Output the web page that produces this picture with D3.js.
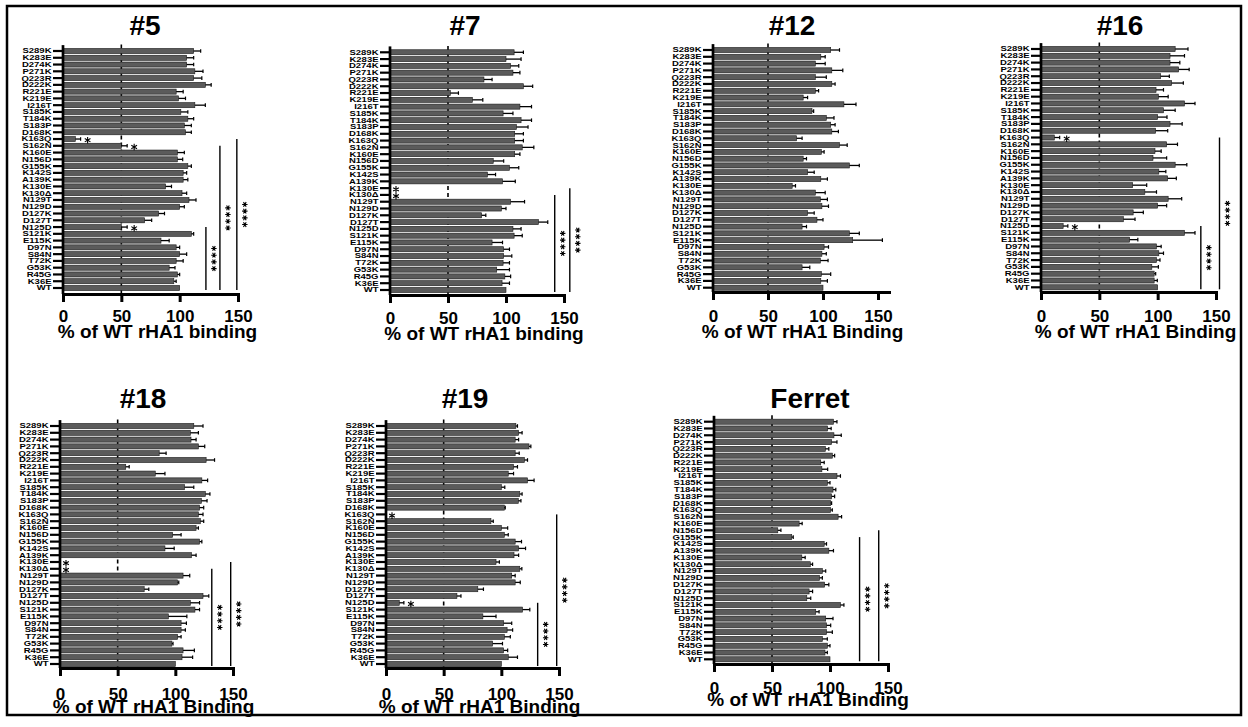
<!DOCTYPE html>
<html>
<head>
<meta charset="utf-8">
<script src="https://cdn.jsdelivr.net/npm/d3@7"></script>
<style>
  body { margin: 0; background: #fff; }
  svg { display: block; font-family: "Liberation Sans", Arial, sans-serif; font-weight: bold; }
</style>
</head>
<body>
<svg id="chart" width="1248" height="727"></svg>
<script>
// categories, top to bottom
const categories = ["S289K","K283E","D274K","P271K","Q223R","D222K","R221E","K219E","I216T","S185K",
  "T184K","S183P","D168K","K163Q","S162N","K160E","N156D","G155K","K142S","A139K",
  "K130E","K130Δ","N129T","N129D","D127K","D127T","N125D","S121K","E115K","D97N",
  "S84N","T72K","G53K","R45G","K36E","WT"];

const titles = ["#5", "#7", "#12", "#16", "#18", "#19", "Ferret"];
const xLabels = ["% of WT rHA1 binding", "% of WT rHA1 binding", "% of WT rHA1 Binding", "% of WT rHA1 Binding",
  "% of WT rHA1 Binding", "% of WT rHA1 Binding", "% of WT rHA1 Binding"];
const ticks = [0, 50, 100, 150];

// % of WT binding (mean) and error, per serum
const vals5 = [112,106,106,113,112,122,97,99,113,101,107,104,105,10.6,50,98,98,107,103,103,88,102,108,100,82,70,50,110,84,97,100,97,91,98,95,100];
const err5  = [6,6,6,7,7,5,6,6,9,6,5,6,5,4.5,5,6,4.6,3,3,4,5,4,6,4,5,6,5,2,7,3,6,6,5,2,2,0];

const vals7 = [107,100,104,106,81,115,52,71,112,97.5,113,109,107.5,107.5,114,107.5,89,103,84,97,0,0,104,96,79,128,106,107,88,98,98,97.5,92,99,96.6,100];
const err7  = [8,13,7,6,7,8,7,9,10,8.5,9,10,7.5,7.5,10,4.5,9,8,7,11,0,0,12,4,3.6,8,7,7,9,5,7,5.5,11,5,6.4,0];

const vals12 = [107,98,93,108,93,108,93,82,119,90,103,107,108,76,115,98.5,82,124,86,98,72,93,97.6,99,86,94.5,81,124,127,101,99,97.6,81,98.5,98,100];
const err12  = [8,4,9,10,10,3,3,4,11,1.5,7,4,6,5,7,2.5,3,9,6,6,3,9,6.4,6,6,5.5,4,9,27,4,4,7,7,8.5,6,0];

const vals16 = [115,110.6,110.6,118,102.6,112,98.6,100.6,123,105,100,110.6,98.3,11.4,107.7,97.7,96,115,101,108.6,78.6,89,109,100,79,70.6,19,123,76,99,101,99,95,97,97,100];
const err16  = [11,12.4,8.4,9,7.4,10,6.4,8.4,9,10,8,10.4,10.3,4.6,9.3,5.3,11.7,10,6,7.4,12,10,11.6,7.7,8.7,10,4,9,7,4,4,3,5.6,1.3,2.7,0];

const vals18 = [116,113,113.6,120,86,126.7,57,82.6,123,108,126,122.6,121,120,121.7,118,97.7,121,91,114,0,0,106.7,102,73,124,113,117,94,105,105,102,97,106.7,105.8,100];
const err18  = [8,7,4.4,5.5,6,7.3,3,8.4,5,8,4,4.9,3.6,4,2.9,2,7.3,2,8,4,0,0,5.8,1,4,5,8,4,16,4.6,3.7,3,1,9.8,9.2,0];

const vals19 = [112.6,115,112,124,112,120,110.6,106,122.7,100,116,114.7,102.6,0,91,100,102.6,112,115,111,95.4,116,109,112,79.6,61.5,11.5,118.4,84,102,105,102.6,92.5,102,106,100];
const err19  = [1.4,3,3,1.6,3.5,2.7,3.4,4.6,5.7,3,2,2.3,0.8,0,2,5.5,3.4,5.5,6,4,2.9,1.8,3,4.4,4.9,3.5,4,6.3,11.4,7,4.8,5.2,8.5,3.5,8,0];

const valsFerret = [103,98,103.4,101.4,96,102,92,93,106,97.7,102.6,101.4,100.6,100.6,107,73.4,55,67,95,99,75.7,83,93.4,91,95.4,82,80,109,87.7,96.3,97,97,93.4,97.7,95.7,100];
const errFerret  = [3,3,6.3,4.6,3,2,3,5,3,2.3,2.4,2.6,0.8,1.4,3,2.6,2.7,1.3,2,4,2.9,2,2.9,2.4,3.6,3,3.4,3,2.9,6.3,3.6,5,4.3,2.3,2,0];

// single "*" marks next to bars
const stars5 = ["K163Q", "S162N", "N125D"];
const stars7 = ["K130E", "K130Δ"];
const stars12 = [];
const stars16 = ["K163Q", "N125D"];
const stars18 = ["K130E", "K130Δ"];
const stars19 = ["K163Q", "N125D"];
const starsFerret = [];

// "****" brackets: from a category down to WT, drawn at a value on the x scale
const brackets5 = [{ from: "N125D", at: 122.5 }, { from: "S162N", at: 134.5 }, { from: "K163Q", at: 149 }];
const brackets7 = [{ from: "K130Δ", at: 142 }, { from: "K130E", at: 155 }];
const brackets12 = [];
const brackets16 = [{ from: "N125D", at: 137 }, { from: "K163Q", at: 153 }];
const brackets18 = [{ from: "K130Δ", at: 131.6 }, { from: "K130E", at: 148 }];
const brackets19 = [{ from: "N125D", at: 131.5 }, { from: "K163Q", at: 148 }];
const bracketsFerret = [{ from: "G155K", at: 125.5 }, { from: "N156D", at: 142 }];

// layout of each panel (pixels)
const panels = [
  { values: vals5, errors: err5, stars: stars5, brackets: brackets5, x0: 63, x150: 238, max: 150, c0: 51, c1: 288, axisY: 294, tickY: 322, labelY: 337.5, titleX: 145, titleY: 35 },
  { values: vals7, errors: err7, stars: stars7, brackets: brackets7, x0: 390, x150: 564, max: 150, c0: 52.3, c1: 290, axisY: 295, tickY: 324, labelY: 339.5, titleX: 465, titleY: 35 },
  { values: vals12, errors: err12, stars: stars12, brackets: brackets12, x0: 713, x150: 878, max: 160, c0: 50, c1: 287.7, axisY: 292, tickY: 322, labelY: 337.5, titleX: 792, titleY: 35 },
  { values: vals16, errors: err16, stars: stars16, brackets: brackets16, x0: 1041, x150: 1216, max: 150, c0: 49, c1: 287.3, axisY: 292, tickY: 322, labelY: 337.5, titleX: 1120, titleY: 35 },
  { values: vals18, errors: err18, stars: stars18, brackets: brackets18, x0: 60, x150: 233, max: 150, c0: 426, c1: 664, axisY: 668, tickY: 699.5, labelY: 713, titleX: 143, titleY: 408 },
  { values: vals19, errors: err19, stars: stars19, brackets: brackets19, x0: 386, x150: 559, max: 150, c0: 426, c1: 664, axisY: 668, tickY: 699.5, labelY: 713, titleX: 465, titleY: 408 },
  { values: valsFerret, errors: errFerret, stars: starsFerret, brackets: bracketsFerret, x0: 714, x150: 888, max: 150, c0: 421.7, c1: 659.3, axisY: 664, tickY: 693.5, labelY: 706, titleX: 810, titleY: 408 }
];

// six-armed asterisk drawn as a path (radius r, rotated by rot degrees)
function asteriskPath(r, rot) {
  let d = "";
  for (let i = 0; i < 3; i++) {
    const a = (rot + i * 60) * Math.PI / 180;
    const dx = r * Math.sin(a), dy = -r * Math.cos(a);
    d += `M${-dx},${-dy}L${dx},${dy}`;
  }
  return d;
}

const svg = d3.select("#chart");

// outer frame
svg.append("rect")
  .attr("x", 7).attr("y", 6)
  .attr("width", 1234).attr("height", 709)
  .attr("fill", "none").attr("stroke", "#000").attr("stroke-width", 2.5);

panels.forEach((p, k) => {
  const n = categories.length;
  const step = (p.c1 - p.c0) / (n - 1);

  const y = d3.scaleBand()
    .domain(categories)
    .range([p.c0 - step / 2, p.c1 + step / 2])
    .paddingInner(0.25)
    .paddingOuter(0.125);

  const x = d3.scaleLinear()
    .domain([0, p.max])
    .range([p.x0, p.x0 + (p.x150 - p.x0) * p.max / 150]);

  const cy = c => y(c) + y.bandwidth() / 2;
  const rows = categories.map((c, i) => ({ cat: c, v: p.values[i], e: p.errors[i] }));
  const g = svg.append("g");

  // title
  g.append("text")
    .attr("x", p.titleX).attr("y", p.titleY)
    .attr("text-anchor", "middle")
    .attr("font-size", 28)
    .text(titles[k]);

  // dashed line at 50%
  g.append("line")
    .attr("x1", x(50)).attr("x2", x(50))
    .attr("y1", p.c0 - step / 2 - 3).attr("y2", p.axisY)
    .attr("stroke", "#000").attr("stroke-width", 1.6)
    .attr("stroke-dasharray", "4,3");

  // bars
  g.selectAll("rect.bar")
    .data(rows.filter(d => d.v > 0))
    .join("rect")
    .attr("class", "bar")
    .attr("x", x(0))
    .attr("y", d => y(d.cat))
    .attr("width", d => x(d.v) - x(0))
    .attr("height", y.bandwidth())
    .attr("fill", "#5b5b5b")
    .attr("stroke", "#1a1a1a")
    .attr("stroke-width", 0.6);

  // error bars
  const errRows = rows.filter(d => d.e > 0);
  g.selectAll("line.err")
    .data(errRows)
    .join("line")
    .attr("class", "err")
    .attr("x1", d => x(d.v)).attr("x2", d => x(d.v + d.e))
    .attr("y1", d => cy(d.cat)).attr("y2", d => cy(d.cat))
    .attr("stroke", "#000").attr("stroke-width", 1.3);
  g.selectAll("line.cap")
    .data(errRows)
    .join("line")
    .attr("class", "cap")
    .attr("x1", d => x(d.v + d.e)).attr("x2", d => x(d.v + d.e))
    .attr("y1", d => cy(d.cat) - 1.8).attr("y2", d => cy(d.cat) + 1.8)
    .attr("stroke", "#000").attr("stroke-width", 1.2);

  // single stars
  g.selectAll("path.star")
    .data(rows.filter(d => p.stars.includes(d.cat)))
    .join("path")
    .attr("class", "star")
    .attr("transform", d => `translate(${d.v > 0 ? x(d.v + d.e) + 7 : x(0) + 6},${cy(d.cat) + 1.2})`)
    .attr("d", asteriskPath(3.3, 0))
    .attr("fill", "none")
    .attr("stroke", "#000")
    .attr("stroke-width", 1.1);

  // brackets with ****
  p.brackets.forEach(b => {
    const top = cy(b.from);
    const bottom = p.c1 + 2;
    g.append("line")
      .attr("x1", x(b.at)).attr("x2", x(b.at))
      .attr("y1", top).attr("y2", bottom)
      .attr("stroke", "#000").attr("stroke-width", 1.4);
    const mid = (top + bottom) / 2;
    g.selectAll(null)
      .data([-1.5, -0.5, 0.5, 1.5])
      .join("path")
      .attr("transform", o => `translate(${x(b.at) + 8},${mid + o * 6.7})`)
      .attr("d", asteriskPath(2.7, 90))
      .attr("fill", "none")
      .attr("stroke", "#000")
      .attr("stroke-width", 1.1);
  });

  // y axis
  const yAxis = g.append("g")
    .attr("transform", `translate(${p.x0},0)`)
    .call(d3.axisLeft(y).tickSize(10).tickPadding(1.5));
  yAxis.select(".domain").remove();
  yAxis.attr("font-family", null).attr("font-size", null);
  yAxis.selectAll(".tick line").attr("stroke-width", 2.2);
  yAxis.selectAll(".tick text")
    .attr("font-size", 9.5)
    .attr("font-weight", "bold")
    .attr("transform", "scale(1,0.8)");
  g.append("line")
    .attr("x1", p.x0).attr("x2", p.x0)
    .attr("y1", p.c0 - step / 2 - 2.5).attr("y2", p.axisY)
    .attr("stroke", "#000").attr("stroke-width", 2.7);

  // x axis
  const xAxis = g.append("g")
    .attr("transform", `translate(0,${p.axisY})`)
    .call(d3.axisBottom(x).tickValues(ticks).tickSize(8).tickSizeOuter(0));
  xAxis.attr("font-family", null).attr("font-size", null);
  xAxis.select(".domain").attr("stroke-width", 3).attr("stroke-linecap", "square");
  xAxis.selectAll(".tick line").attr("stroke-width", 3);
  xAxis.selectAll(".tick text")
    .attr("y", p.tickY - p.axisY)
    .attr("dy", 0)
    .attr("font-size", 17)
    .attr("font-weight", "bold");

  // x axis title
  g.append("text")
    .attr("x", (p.x0 + p.x150) / 2 + 7)
    .attr("y", p.labelY)
    .attr("text-anchor", "middle")
    .attr("font-size", 19)
    .text(xLabels[k]);
});
</script>
</body>
</html>
